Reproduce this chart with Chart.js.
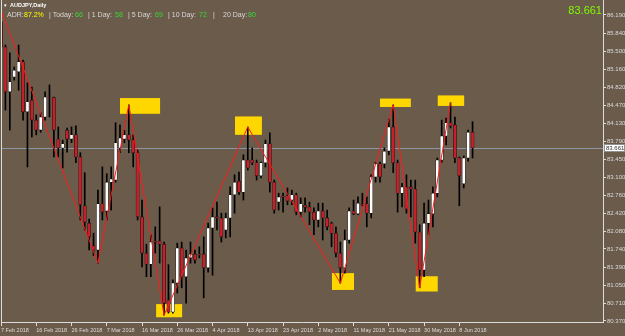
<!DOCTYPE html>
<html>
<head>
<meta charset="utf-8">
<script src="https://cdn.jsdelivr.net/npm/chart.js@4.4.0/dist/chart.umd.min.js"></script>
<style>
  html, body { margin: 0; padding: 0; background: #6b5b4b; }
  #wrap { position: relative; width: 625px; height: 336px; overflow: hidden; font-family: 'Liberation Sans', Arial, sans-serif; }
  #wrap canvas { position: absolute; left: 0; top: 0; }
  #wrap span { position: absolute; white-space: pre; line-height: 1; }
  .lbl { color: #d8d8d8; font-size: 7px; top: 11.4px; }
  .grn { color: #33dd33; font-size: 7px; top: 11.4px; }
</style>
</head>
<body>
<div id="wrap">
  <canvas id="myChart" width="625" height="336"></canvas>
  <span style="left:3px;top:3.5px;font-size:4.5px;color:#fff">&#9660;</span>
  <span style="left:10px;top:3.3px;font-size:5.5px;color:#fff;font-weight:bold">AUDJPY,Daily</span>
  <span class="lbl" style="left:7px">ADR:</span>
  <span class="lbl" style="left:24px;color:#ffff00">87.2%</span>
  <span class="lbl" style="left:49px">| Today:</span>
  <span class="grn" style="left:75px">66</span>
  <span class="lbl" style="left:88px">| 1 Day:</span>
  <span class="grn" style="left:115px">58</span>
  <span class="lbl" style="left:128px">| 5 Day:</span>
  <span class="grn" style="left:155px">69</span>
  <span class="lbl" style="left:168px">| 10 Day:</span>
  <span class="grn" style="left:199px">72</span>
  <span class="lbl" style="left:213px">|</span>
  <span class="lbl" style="left:223px">20 Day:</span>
  <span class="grn" style="left:248px">80</span>
  <span style="right:23px;top:5.3px;font-size:11px;color:#7cfc00">83.661</span>
</div>
<script>
'use strict';

// AUDJPY daily bars, 7 Feb 2018 .. 12 Jun 2018
var opens = [86.06, 85.58, 84.73, 85.01, 85.11, 85.30, 84.35, 84.57, 84.19, 84.00,
  84.25, 84.63, 84.62, 83.83, 83.66, 84.00, 83.83, 83.91, 83.49, 82.56,
  82.23, 81.80, 81.72, 82.60, 82.46, 83.01, 83.05, 83.66, 83.83, 83.91,
  83.81, 83.57, 82.35, 81.66, 81.45, 81.89, 81.89, 81.83, 80.77, 80.54,
  81.09, 81.76, 81.21, 81.57, 81.64, 81.64, 81.64, 81.38, 82.14, 82.35,
  82.33, 82.10, 82.33, 82.77, 83.03, 82.82, 83.43, 83.43, 83.38, 83.13,
  83.38, 83.74, 83.01, 82.63, 82.74, 82.75, 82.67, 82.77, 82.44, 82.57,
  82.54, 82.44, 82.29, 82.46, 82.33, 82.23, 82.04, 81.66, 81.38, 81.91,
  82.46, 82.41, 82.60, 82.60, 82.42, 83.11, 83.36, 83.36, 83.60, 84.06,
  83.38, 82.80, 82.92, 82.92, 82.88, 82.06, 81.34, 82.23, 82.41, 82.80,
  83.43, 83.89, 84.14, 84.10, 83.47, 82.98, 83.47, 83.96];
var highs = [86.28, 85.62, 85.47, 85.20, 85.62, 85.33, 84.90, 84.82, 84.29, 84.33,
  84.73, 84.86, 84.63, 84.06, 83.81, 84.04, 84.06, 84.08, 83.57, 83.19,
  82.31, 82.04, 82.86, 83.30, 83.17, 83.30, 84.14, 84.10, 84.00, 84.48,
  83.91, 83.62, 82.67, 81.83, 82.01, 82.16, 82.54, 81.87, 81.44, 81.15,
  81.85, 81.87, 81.72, 81.87, 81.72, 81.78, 81.97, 82.23, 82.52, 82.63,
  82.42, 82.42, 82.92, 83.15, 83.20, 83.53, 84.06, 83.66, 83.43, 83.39,
  83.81, 83.95, 83.05, 82.80, 82.80, 82.90, 82.86, 82.80, 82.71, 82.71,
  82.63, 82.52, 82.61, 82.61, 82.48, 82.25, 82.16, 81.87, 82.10, 82.52,
  82.67, 82.73, 82.80, 82.73, 83.15, 83.39, 83.39, 83.66, 84.21, 84.48,
  83.43, 82.99, 83.15, 83.05, 83.05, 82.20, 82.61, 82.67, 82.92, 83.47,
  84.19, 84.23, 84.52, 84.25, 83.49, 83.51, 84.00, 84.16];
var lows = [85.52, 84.38, 84.00, 84.95, 84.76, 84.19, 83.30, 83.87, 83.91, 83.96,
  84.19, 84.25, 83.49, 83.49, 83.28, 83.58, 83.76, 83.38, 82.29, 82.10,
  81.72, 81.61, 81.47, 82.29, 82.29, 82.48, 83.01, 83.57, 83.76, 83.57,
  83.30, 82.29, 81.40, 81.21, 81.21, 81.66, 81.47, 80.48, 80.52, 80.52,
  80.90, 81.00, 80.71, 81.47, 81.47, 81.57, 80.81, 81.30, 81.24, 82.10,
  81.87, 81.95, 81.97, 82.42, 82.77, 82.67, 83.24, 83.34, 83.05, 83.09,
  83.30, 82.82, 82.42, 82.48, 82.44, 82.58, 82.58, 82.39, 82.35, 82.44,
  82.20, 82.01, 82.16, 81.91, 82.10, 81.78, 81.59, 81.09, 81.28, 81.85,
  82.39, 82.39, 82.56, 82.16, 82.33, 83.01, 83.01, 83.28, 83.53, 83.19,
  82.44, 82.54, 82.42, 82.35, 81.85, 81.00, 81.21, 82.01, 82.16, 82.73,
  83.39, 83.72, 84.04, 83.38, 82.56, 82.90, 83.41, 83.47];
var closes = [85.58, 84.73, 84.92, 85.14, 85.30, 84.35, 84.54, 84.19, 84.00, 84.25,
  84.63, 84.62, 84.00, 83.66, 83.74, 83.83, 83.91, 83.49, 82.58, 82.25,
  81.97, 81.72, 82.60, 82.44, 83.01, 83.07, 83.76, 83.85, 83.91, 83.81,
  83.57, 82.35, 81.66, 81.45, 81.87, 81.87, 81.83, 80.71, 80.54, 81.09,
  81.76, 81.21, 81.57, 81.64, 81.53, 81.63, 81.38, 82.14, 82.35, 82.33,
  81.97, 82.33, 82.77, 83.01, 82.82, 83.43, 83.28, 83.38, 83.13, 83.38,
  83.74, 83.01, 82.48, 82.73, 82.73, 82.65, 82.77, 82.44, 82.60, 82.53,
  82.44, 82.29, 82.46, 82.33, 82.16, 82.04, 81.66, 81.38, 81.91, 82.46,
  82.41, 82.61, 82.58, 82.42, 83.11, 83.36, 83.11, 83.60, 84.06, 83.38,
  82.80, 82.92, 82.50, 82.88, 82.06, 81.34, 82.23, 82.41, 82.80, 83.43,
  83.89, 84.14, 84.08, 83.47, 83.13, 83.47, 83.96, 83.66];

// one date label every 8 bars
var dateTicks = ['7 Feb 2018', '16 Feb 2018', '26 Feb 2018', '7 Mar 2018', '16 Mar 2018',
  '26 Mar 2018', '4 Apr 2018', '13 Apr 2018', '23 Apr 2018', '2 May 2018', '11 May 2018',
  '21 May 2018', '30 May 2018', '8 Jun 2018'];
var priceTicks = [86.190, 85.840, 85.500, 85.160, 84.820, 84.470, 84.130, 83.790, 83.450,
  83.100, 82.760, 82.420, 82.080, 81.740, 81.390, 81.050, 80.710, 80.370];

// zigzag swing points (bar, price)
var zigzagBars = [0, 22, 29, 37, 56, 77, 89, 95, 102];
var zigzagPrices = [86.28, 81.47, 84.48, 80.48, 84.06, 81.09, 84.48, 81.00, 84.52];

// yellow boxes at the swings (bar range, price range)
var boxFrom = [27.0, 35.2, 53.1, 75.1, 86.0, 94.1, 99.1];
var boxTo = [36.1, 41.1, 59.2, 80.1, 93.0, 99.1, 105.1];
var boxTop = [84.61, 80.69, 84.26, 81.28, 84.60, 81.22, 84.66];
var boxBottom = [84.31, 80.44, 83.91, 80.96, 84.44, 80.93, 84.46];

var currentPrice = 83.661;

var fg = '#dcdcdc';
var tickFont = { family: 'Liberation Sans', size: 6 };

var extras = {
    id: 'extras',
    beforeDatasetsDraw: function (chart) {
        var ctx = chart.ctx, x = chart.scales.x, y = chart.scales.y, a = chart.chartArea;
        ctx.save();
        ctx.beginPath();
        ctx.rect(a.left, a.top, a.right - a.left, a.bottom - a.top);
        ctx.clip();
        ctx.fillStyle = '#ffd700';
        for (var k = 0; k < boxFrom.length; k++) {
            var x0 = x.getPixelForValue(boxFrom[k]), x1 = x.getPixelForValue(boxTo[k]);
            var y0 = y.getPixelForValue(boxTop[k]), y1 = y.getPixelForValue(boxBottom[k]);
            ctx.fillRect(x0, y0, x1 - x0, y1 - y0);
        }
        // current price line
        var py = Math.round(y.getPixelForValue(currentPrice)) + 0.5;
        ctx.strokeStyle = '#8a96a3';
        ctx.lineWidth = 1;
        ctx.beginPath();
        ctx.moveTo(a.left, py);
        ctx.lineTo(a.right, py);
        ctx.stroke();
        ctx.restore();
    },
    afterDraw: function (chart) {
        var ctx = chart.ctx, y = chart.scales.y, a = chart.chartArea;
        ctx.save();
        ctx.strokeStyle = fg;
        ctx.lineWidth = 1;
        ctx.beginPath();
        ctx.moveTo(a.left + 0.5, a.top);
        ctx.lineTo(a.left + 0.5, a.bottom);
        ctx.stroke();
        // price label on the axis
        var py = Math.round(y.getPixelForValue(currentPrice));
        ctx.fillStyle = '#ffffff';
        ctx.fillRect(a.right + 1, py - 4, 21, 8);
        ctx.strokeStyle = '#909090';
        ctx.strokeRect(a.right + 1.5, py - 3.5, 20, 7);
        ctx.fillStyle = '#303030';
        ctx.font = '6px "Liberation Sans"';
        ctx.textBaseline = 'middle';
        ctx.fillText(currentPrice.toFixed(3), a.right + 3, py + 0.5);
        ctx.restore();
    }
};

var ctx = document.getElementById('myChart').getContext('2d');
var chart = new Chart(ctx, {
    type: 'bar',
    data: {
        datasets: [{
            type: 'line',
            data: zigzagBars.map(function (b, k) { return { x: b, y: zigzagPrices[k] }; }),
            borderColor: '#ff1a1a',
            borderWidth: 1,
            pointRadius: 0,
            order: 0
        }, {
            data: opens.map(function (o, i) { return { x: i, y: [o, closes[i]] }; }),
            backgroundColor: opens.map(function (o, i) { return closes[i] >= o ? '#ffffff' : '#c8202a'; }),
            borderColor: '#1a1410',
            borderWidth: 0.6,
            borderSkipped: false,
            barThickness: 3.2,
            grouped: false,
            order: 1
        }, {
            data: lows.map(function (l, i) { return { x: i, y: [l, highs[i]] }; }),
            backgroundColor: '#000000',
            borderWidth: 0,
            barThickness: 1,
            grouped: false,
            order: 2
        }]
    },
    options: {
        responsive: false,
        animation: false,
        devicePixelRatio: 1,
        layout: { padding: { left: 1, top: 0, right: 0, bottom: 0 } },
        plugins: { legend: { display: false }, tooltip: { enabled: false } },
        scales: {
            x: {
                type: 'linear',
                offset: false,
                min: 0,
                max: 136.6,
                afterBuildTicks: function (s) {
                    s.ticks = dateTicks.map(function (d, k) { return { value: k * 8 }; });
                },
                afterFit: function (s) {
                    s.height = 14;
                    s.paddingLeft = 0;
                    s.paddingRight = 0;
                },
                ticks: {
                    callback: function (v, k) { return dateTicks[k]; },
                    autoSkip: false,
                    maxRotation: 0,
                    align: 'start',
                    color: fg,
                    font: { family: 'Liberation Sans', size: 5.5 },
                    padding: 1
                },
                grid: { offset: false, drawOnChartArea: false, tickLength: 4, color: fg },
                border: { color: fg }
            },
            y: {
                position: 'right',
                min: 80.350,
                max: 86.475,
                afterBuildTicks: function (s) {
                    s.ticks = priceTicks.map(function (v) { return { value: v }; });
                },
                afterFit: function (s) {
                    s.width = 22;
                    s.paddingTop = 0;
                    s.paddingBottom = 0;
                },
                ticks: {
                    callback: function (v) { return v.toFixed(3); },
                    color: fg,
                    font: tickFont,
                    padding: 1
                },
                grid: { drawOnChartArea: false, tickLength: 3, color: fg },
                border: { color: fg }
            }
        }
    },
    plugins: [extras]
});
</script>
</body>
</html>
